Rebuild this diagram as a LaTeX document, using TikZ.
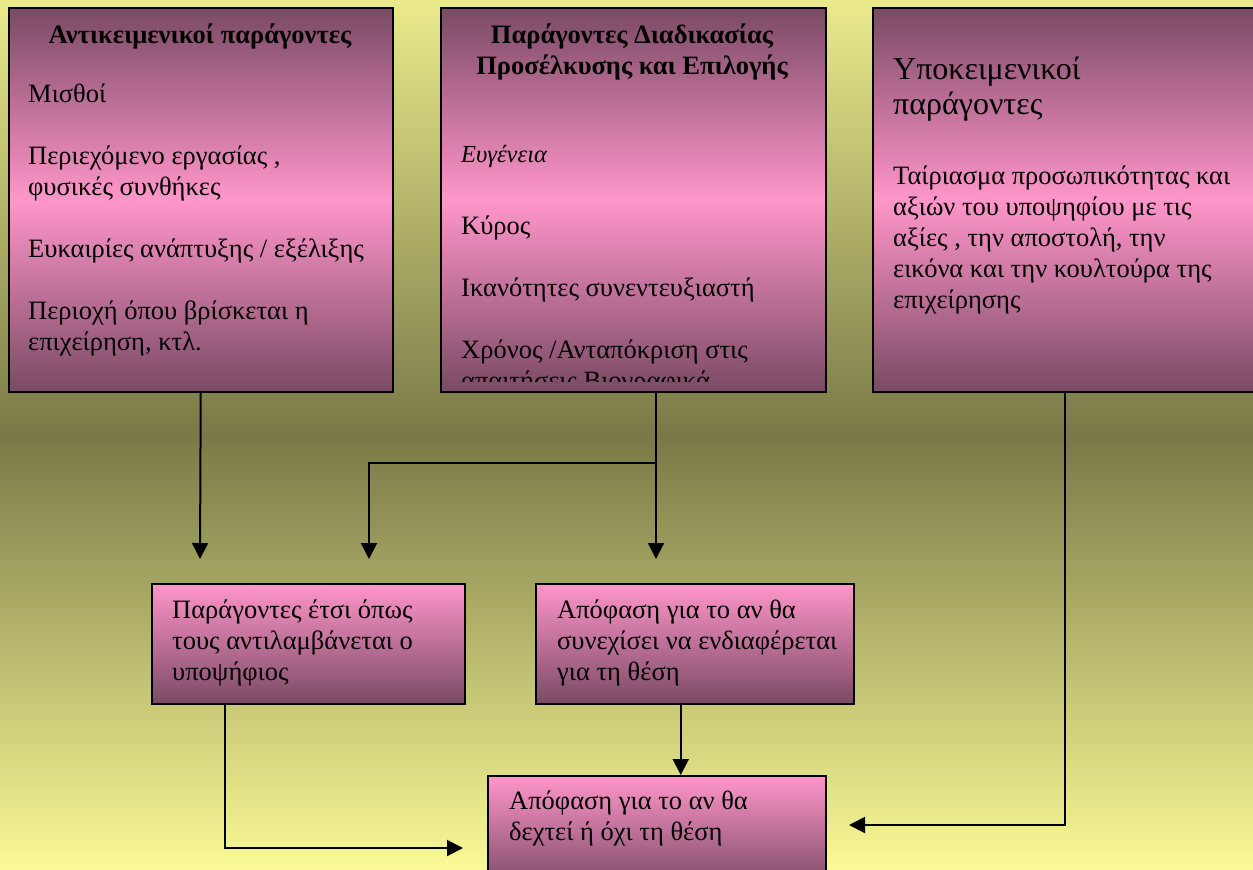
\documentclass[tikz,border=0pt]{standalone}
\usepackage{fontspec}
\setmainfont{Liberation Serif}
\usetikzlibrary{arrows.meta,positioning}
\definecolor{boxdark}{RGB}{122,74,100}
\definecolor{boxpink}{RGB}{255,150,202}
\definecolor{bgyellow}{RGB}{234,234,140}
\definecolor{bgolive}{RGB}{121,121,72}
\definecolor{bglight}{RGB}{250,250,150}
\tikzset{
  topbox/.style={draw=black, line width=1.5pt, anchor=north west, inner sep=0pt,
    top color=boxdark, bottom color=boxdark, middle color=boxpink},
  lowbox/.style={draw=black, line width=1.5pt, anchor=north west, inner sep=0pt,
    top color=boxpink, bottom color=boxdark},
  boxtext/.style={anchor=base west, inner sep=0pt, align=left, font=\fontsize{26.5}{31}\selectfont},
  boxtitle/.style={anchor=base, inner sep=0pt, align=center, font=\fontsize{26.5}{31}\selectfont\bfseries},
  link/.style={line width=2pt, -{Triangle[length=16pt,width=16pt]}},
}
\begin{document}
\begin{tikzpicture}[x=1pt,y=-1pt]
\shade[top color=bgyellow, bottom color=bglight, middle color=bgolive] (0,0) rectangle (1253,870);
\useasboundingbox (0,0) rectangle (1253,870);
% upper row (text nodes sit on the baseline of their last line)
\node[topbox, minimum width=384pt, minimum height=384pt] (objA) at (8,7) {};
\node[topbox, minimum width=385pt, minimum height=384pt] (procB) at (440,7) {};
\node[topbox, minimum width=400pt, minimum height=384pt] (subjC) at (872,7) {};
\node[boxtitle] (objTitle) at (200,43) {Αντικειμενικοί παράγοντες};
\node[boxtext] (objList) at (28,350) {Μισθοί\\[31pt]
  Περιεχόμενο εργασίας ,\\ φυσικές συνθήκες\\[31pt]
  Ευκαιρίες ανάπτυξης / εξέλιξης\\[31pt]
  Περιοχή όπου βρίσκεται η\\ επιχείρηση, κτλ.};
\node[boxtitle] (procTitle) at (632,74) {Παράγοντες Διαδικασίας\\ Προσέλκυσης και Επιλογής};
\node[boxtext, font=\fontsize{24.5}{31}\selectfont\itshape] (procFirst) at (461,162) {Ευγένεια};
\begin{scope}
\clip (441,8) rectangle (824,381);
\node[boxtext] (procList) at (461,389) {Κύρος\\[31pt]
  Ικανότητες συνεντευξιαστή\\[31pt]
  Χρόνος /Ανταπόκριση στις\\ απαιτήσεις Βιογραφικά};
\end{scope}
\node[boxtext, font=\fontsize{32}{35}\selectfont] (subjTitle) at (893,114) {Υποκειμενικοί\\ παράγοντες};
\node[boxtext] (subjList) at (893,308) {Ταίριασμα προσωπικότητας και\\ αξιών του υποψηφίου με τις\\
  αξίες , την αποστολή, την\\ εικόνα και την κουλτούρα της\\ επιχείρησης};
% lower row
\node[lowbox, minimum width=313pt, minimum height=120pt] (perc) at (151,583) {};
\node[lowbox, minimum width=318pt, minimum height=120pt] (cont) at (535,583) {};
\node[lowbox, minimum width=338pt, minimum height=112pt] (accept) at (487,775) {};
\node[boxtext] (percText) at (172,680) {Παράγοντες έτσι όπως\\ τους αντιλαμβάνεται ο\\ υποψήφιος};
\node[boxtext] (contText) at (557,680) {Απόφαση για το αν θα\\ συνεχίσει να ενδιαφέρεται\\ για τη θέση};
\node[boxtext] (acceptText) at (509,840) {Απόφαση για το αν θα\\ δεχτεί ή όχι τη θέση};
% connectors
\coordinate (tipA) at (200,559);
\coordinate (tipB) at (656,559);
\coordinate (tipBL) at (369,559);
\coordinate (split) at (656,463);
\coordinate (inL) at (463,848);
\coordinate (inR) at (849,825);
\draw[link] (objA.south) -- (tipA);
\draw[line width=2pt] (procB.south -| split) -- (split);
\draw[link] (split) -- (tipB);
\draw[link] (split) -| (tipBL);
\draw[link] ([xshift=-83.5pt]perc.south) |- (inL);
\draw[link] ([xshift=-14pt]cont.south) -- ([xshift=-14pt]cont.south |- accept.north);
\draw[link] ([xshift=-8pt]subjC.south) |- (inR);
\end{tikzpicture}
\end{document}
